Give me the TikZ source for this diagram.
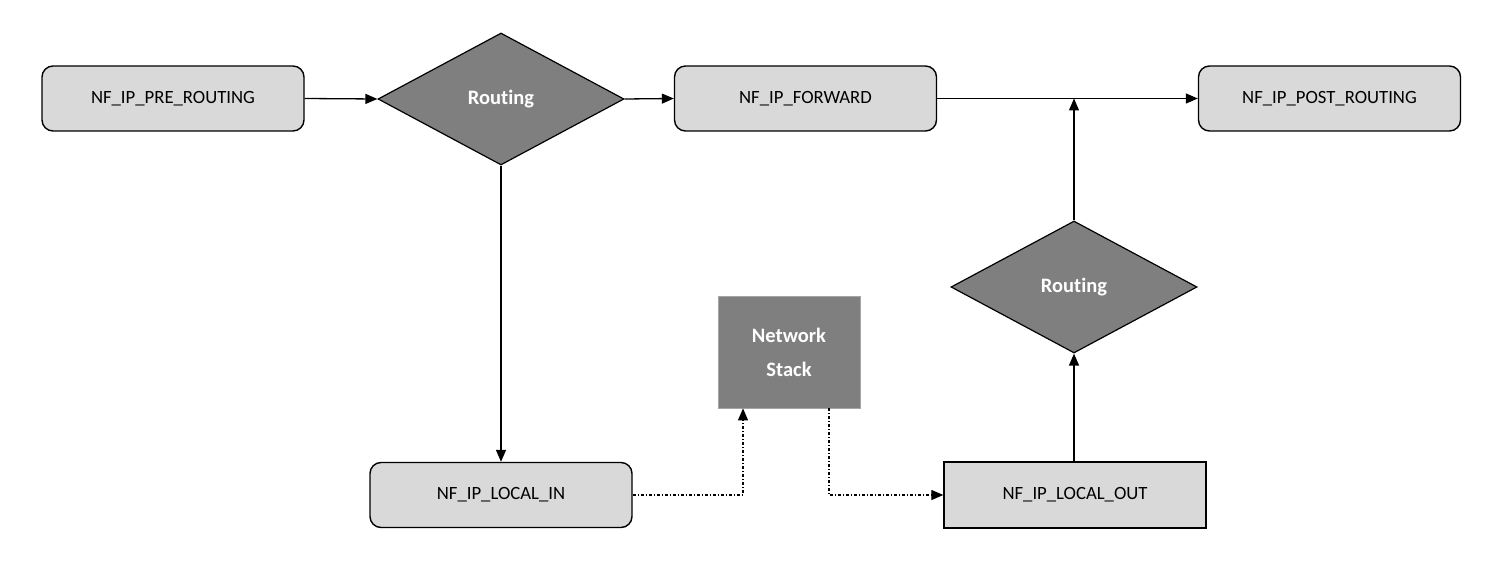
\documentclass[tikz,border=0pt]{standalone}
\usepackage{fontspec}
\setmainfont[Ligatures={NoCommon}]{Carlito}
\usetikzlibrary{arrows.meta,shapes.geometric,calc}
\definecolor{lightbox}{HTML}{D9D9D9}
\definecolor{darkbox}{HTML}{7F7F7F}
\begin{document}
\begin{tikzpicture}[x=1pt,y=-1pt,
  hookbox/.style={draw=black,line width=1.4pt,fill=lightbox,rounded corners=11pt,
    minimum width=262pt,minimum height=65pt,inner sep=0pt,font=\fontsize{18.7}{22}\selectfont},
  sharpbox/.style={draw=black,line width=1.4pt,fill=lightbox,
    minimum width=262pt,minimum height=66pt,inner sep=0pt,font=\fontsize{18.7}{22}\selectfont},
  routebox/.style={diamond,draw=black,line width=1.2pt,fill=darkbox,aspect=1.8636,
    minimum width=246pt,minimum height=132pt,inner sep=0pt,text=white,
    font=\bfseries\fontsize{20.5}{24}\selectfont},
  stackbox/.style={draw=darkbox!70,line width=0.8pt,fill=darkbox,minimum width=142pt,minimum height=112pt,
    inner sep=0pt,text=white,align=center,font=\bfseries\fontsize{20.5}{34}\selectfont},
  flow/.style={line width=1.3pt,-{Triangle[length=12pt,width=10pt]}},
  dflow/.style={line width=1.2pt,dash pattern=on 3pt off 2pt on 1pt off 2pt,-{Triangle[length=12pt,width=10pt]}}
]
\useasboundingbox (0,0) rectangle (1506,588);
\node[hookbox] (pre) at (173,98.5) {NF\_IP\_PRE\_ROUTING};
\node[routebox] (r1) at (501,99) {Routing};
\node[hookbox] (fwd) at (805.5,98.5) {NF\_IP\_FORWARD};
\node[hookbox] (post) at (1329.5,98.5) {NF\_IP\_POST\_ROUTING};
\node[routebox] (r2) at (1074,287) {Routing};
\node[stackbox] (ns) at (789,352) {Network\\Stack};
\node[hookbox] (lin) at (501,495) {NF\_IP\_LOCAL\_IN};
\node[sharpbox] (lout) at (1075,495) {NF\_IP\_LOCAL\_OUT};
\coordinate (j) at (1074,98.5);
\draw[flow] (pre.east) -- (r1.west);
\draw[flow] (r1.east) -- (fwd.west);
\draw[flow] (fwd.east) -- (post.west);
\draw[flow] (r1.south) -- (lin.north);
\draw[dflow] (lin.east) -| ($(ns.south)+(-46,0)$);
\draw[dflow] ($(ns.south)+(40,0)$) |- (lout.west);
\draw[flow] (lout.north -| r2.south) -- (r2.south);
\draw[flow] (r2.north) -- (j);
\end{tikzpicture}
\end{document}
